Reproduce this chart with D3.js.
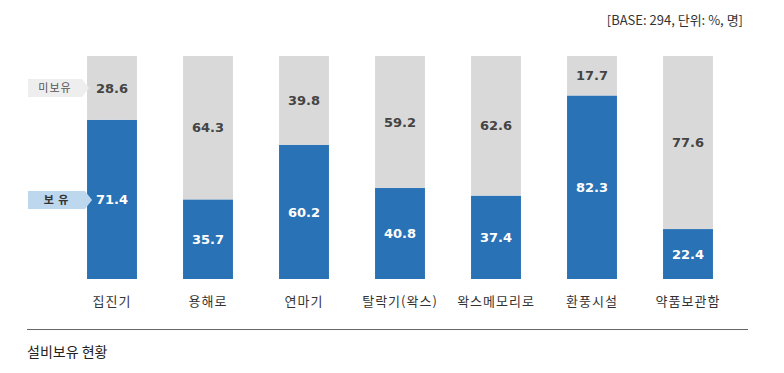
<!DOCTYPE html>
<html>
<head>
<meta charset="utf-8">
<script src="https://cdnjs.cloudflare.com/ajax/libs/d3/7.8.5/d3.min.js"></script>
<style>
body { margin: 0; background: #fff; }
svg { display: block; }
</style>
</head>
<body>
<svg id="canvas" width="784" height="373"></svg>
<script>
// values
var categories = ["집진기", "용해로", "연마기", "탈락기(왁스)", "왁스메모리로", "환풍시설", "약품보관함"];
var owned = [71.4, 35.7, 60.2, 40.8, 37.4, 82.3, 22.4];
var notOwned = [28.6, 64.3, 39.8, 59.2, 62.6, 17.7, 77.6];
var seriesNames = ["보 유", "미보유"];
var baseNote = "[BASE: 294, 단위: %, 명]";
var caption = "설비보유 현황";

var svg = d3.select("#canvas");
var blue = "#2a72b6";
var grey = "#d9d9d9";

var x = d3.scaleBand()
	.domain(categories)
	.range([64, 736])
	.paddingInner(0.48)
	.paddingOuter(0.24);

var y = d3.scaleLinear()
	.domain([0, 100])
	.range([279, 56]);

var rows = categories.map(function(c, i){
	return { cat: c, owned: owned[i], notOwned: notOwned[i] };
});
var stacked = d3.stack().keys(["owned", "notOwned"])(rows);

var layer = svg.selectAll("g.layer")
	.data(stacked)
	.enter()
	.append("g")
		.attr("class", "layer")
		.attr("fill", function(d, i){ return i === 0 ? blue : grey; });

layer.selectAll("rect")
	.data(function(d){ return d; })
	.enter()
	.append("rect")
		.attr("x", function(d){ return x(d.data.cat); })
		.attr("width", x.bandwidth())
		.attr("y", function(d){ return y(d[1]); })
		.attr("height", function(d){ return y(d[0]) - y(d[1]); });

layer.selectAll("text")
	.data(function(d){ return d; })
	.enter()
	.append("text")
		.attr("x", function(d){ return x(d.data.cat) + x.bandwidth() / 2; })
		.attr("y", function(d){ return (y(d[0]) + y(d[1])) / 2; })
		.attr("dy", "0.36em")
		.attr("text-anchor", "middle")
		.attr("font-family", "DejaVu Sans, Verdana, sans-serif")
		.attr("font-size", 13)
		.attr("font-weight", "bold")
		.attr("fill", function(){
			return d3.select(this.parentNode).datum().key === "owned" ? "#ffffff" : "#444444";
		})
		.text(function(d){ return (d[1] - d[0]).toFixed(1); });

// category axis
var xAxis = svg.append("g")
	.attr("transform", "translate(0,279)")
	.call(d3.axisBottom(x).tickSize(0).tickPadding(18));
xAxis.select(".domain").remove();
xAxis.selectAll("text")
	.attr("font-family", "Noto Sans CJK KR, sans-serif")
	.attr("font-size", 13)
	.attr("letter-spacing", "1px")
	.attr("fill", "#333");

// callout labels beside the first bar
function callout(label, cy, fill, w, color, weight){
	var g = svg.append("g");
	g.append("path")
		.attr("d", "M28," + (cy - 9) + "H" + (28 + w) + "L" + (28 + w + 7) + "," + cy +
			"L" + (28 + w) + "," + (cy + 9) + "H28Z")
		.attr("fill", fill);
	g.append("text")
		.attr("x", 28 + w / 2)
		.attr("y", cy)
		.attr("dy", "0.36em")
		.attr("text-anchor", "middle")
		.attr("font-family", "Noto Sans CJK KR, sans-serif")
		.attr("font-size", 11)
		.attr("font-weight", weight)
		.attr("letter-spacing", "1px")
		.attr("fill", color)
		.text(label);
}
var first = stacked[0][0];
callout(seriesNames[1], (y(stacked[1][0][0]) + y(stacked[1][0][1])) / 2, "#eeeeee", 54, "#555", "normal");
callout(seriesNames[0], 200, "#bdd7ee", 57, "#333", "bold");

svg.append("text")
	.attr("x", 743)
	.attr("y", 20)
	.attr("dy", "0.36em")
	.attr("text-anchor", "end")
	.attr("font-family", "Liberation Sans Narrow, Noto Sans CJK KR, sans-serif")
	.attr("font-size", 13)
	.attr("fill", "#333")
	.text(baseNote);

svg.append("line")
	.attr("x1", 27).attr("x2", 748)
	.attr("y1", 329.5).attr("y2", 329.5)
	.attr("stroke", "#666")
	.attr("stroke-width", 1);

svg.append("text")
	.attr("x", 27)
	.attr("y", 352)
	.attr("dy", "0.36em")
	.attr("font-family", "Noto Sans CJK KR, sans-serif")
	.attr("font-size", 14)
	.attr("fill", "#222")
	.text(caption);
</script>
</body>
</html>
